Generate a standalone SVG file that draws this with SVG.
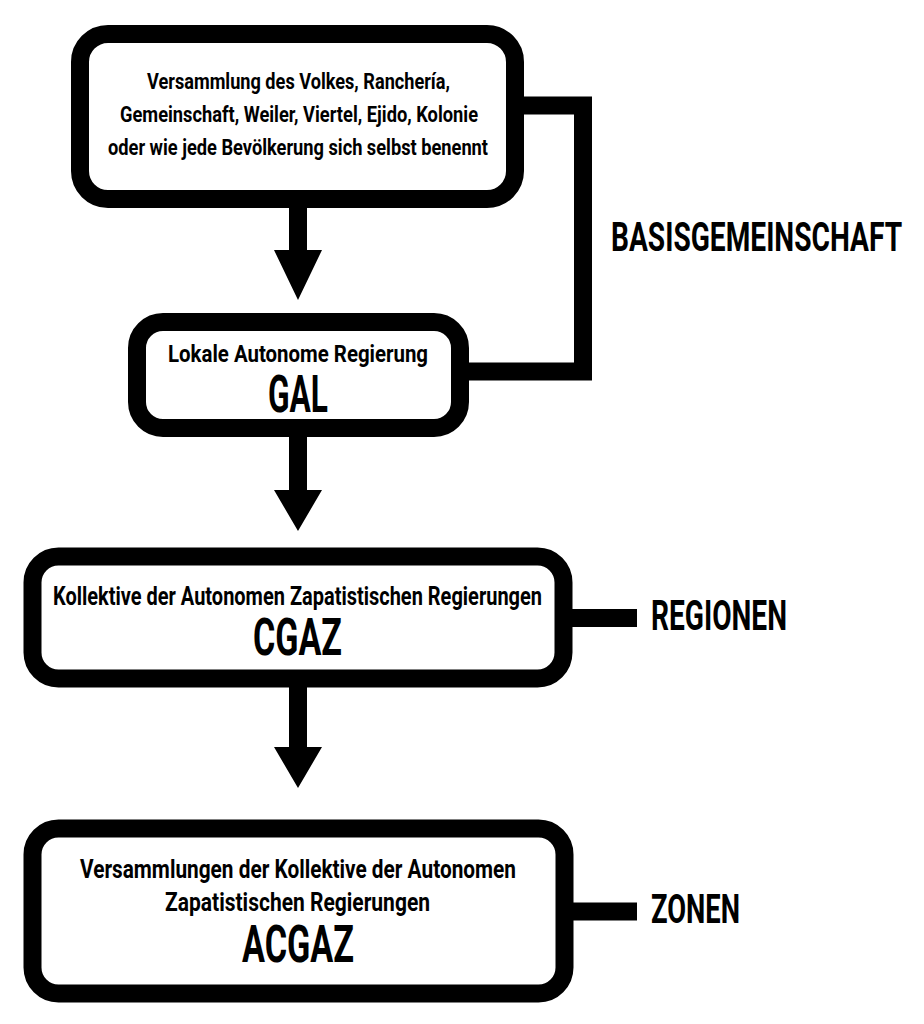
<svg xmlns="http://www.w3.org/2000/svg" width="924" height="1024" viewBox="0 0 924 1024">
<style>
.box{fill:#fff;stroke:#000;stroke-width:18}
.t{font-family:Roboto,"Liberation Sans",sans-serif;font-weight:bold;fill:#000}
.c{text-anchor:middle}
.line{fill:none;stroke:#000;stroke-width:18;stroke-linejoin:miter}
</style>
<rect width="924" height="1024" fill="#fff"/>
<g id="connectors">
<path class="line" d="M524 105.5 H583 V371.5 H469"/>
<polygon points="289,208 307,208 307,250 322,250 298,300 274,250 289,250"/>
<polygon points="289,437 307,437 307,490 322,490 298,531 274,490 289,490"/>
<polygon points="289,687 307,687 307,747 322,747 298,788 274,747 289,747"/>
<path class="line" d="M572 618 H637"/>
<path class="line" d="M573 911.5 H637"/>
</g>
<g id="node-basis">
<rect class="box" x="80" y="34" width="435" height="165" rx="28"/>
<text class="t c" x="298.5" y="89" font-size="22.5" textLength="303" lengthAdjust="spacingAndGlyphs">Versammlung des Volkes, Ranchería,</text>
<text class="t c" x="299" y="122" font-size="22.5" textLength="358" lengthAdjust="spacingAndGlyphs">Gemeinschaft, Weiler, Viertel, Ejido, Kolonie</text>
<text class="t c" x="298" y="155" font-size="22.5" textLength="380" lengthAdjust="spacingAndGlyphs">oder wie jede Bevölkerung sich selbst benennt</text>
</g>
<g id="node-gal">
<rect class="box" x="137" y="322" width="323" height="106" rx="26"/>
<text class="t c" x="298" y="362" font-size="24" textLength="260" lengthAdjust="spacingAndGlyphs">Lokale Autonome Regierung</text>
<text class="t c" x="298" y="412" font-size="51" textLength="60" lengthAdjust="spacingAndGlyphs">GAL</text>
</g>
<g id="node-cgaz">
<rect class="box" x="32.5" y="556.5" width="531" height="122" rx="26"/>
<text class="t c" x="297.5" y="605" font-size="25" textLength="489" lengthAdjust="spacingAndGlyphs">Kollektive der Autonomen Zapatistischen Regierungen</text>
<text class="t c" x="297.5" y="655" font-size="52" textLength="89" lengthAdjust="spacingAndGlyphs">CGAZ</text>
</g>
<g id="node-acgaz">
<rect class="box" x="32.5" y="828.5" width="532" height="165" rx="26"/>
<text class="t c" x="298" y="878" font-size="25" textLength="436" lengthAdjust="spacingAndGlyphs">Versammlungen der Kollektive der Autonomen</text>
<text class="t c" x="297.5" y="911" font-size="25" textLength="265" lengthAdjust="spacingAndGlyphs">Zapatistischen Regierungen</text>
<text class="t c" x="298" y="962" font-size="52" textLength="112" lengthAdjust="spacingAndGlyphs">ACGAZ</text>
</g>
<g id="label-basis">
<text class="t" transform="translate(611 251) scale(0.66 1)" x="0" y="0" font-size="41" textLength="441" lengthAdjust="spacingAndGlyphs">BASISGEMEINSCHAFT</text>
</g>
<g id="label-regionen">
<text class="t" x="651" y="630" font-size="42" textLength="136" lengthAdjust="spacingAndGlyphs">REGIONEN</text>
</g>
<g id="label-zonen">
<text class="t" x="651" y="923" font-size="40" textLength="89" lengthAdjust="spacingAndGlyphs">ZONEN</text>
</g>
</svg>
